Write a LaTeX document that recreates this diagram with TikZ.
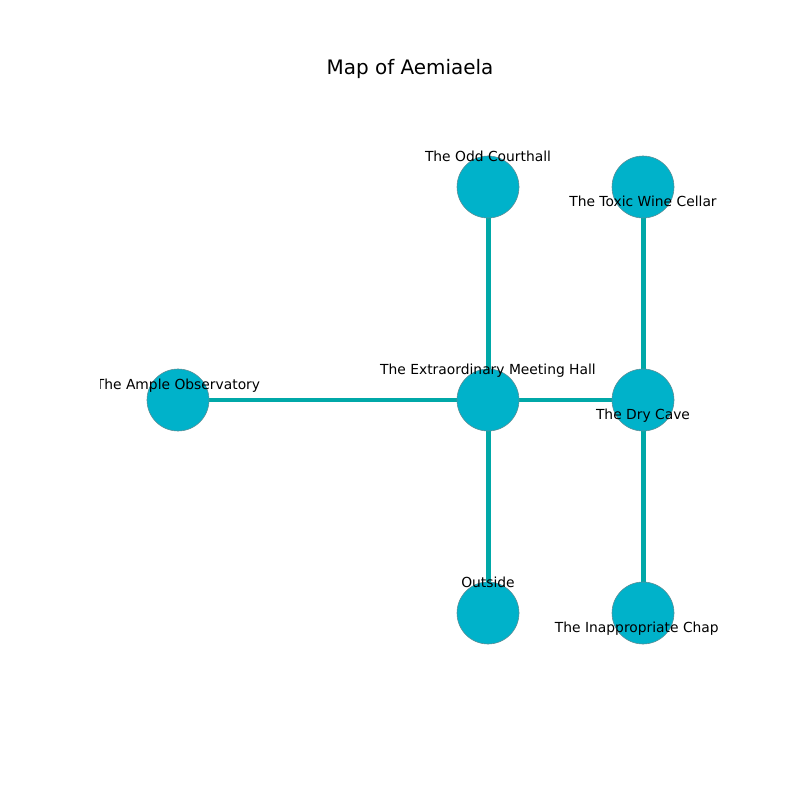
\documentclass[tikz,border=0pt]{standalone}
\usepackage{fontspec}
\setmainfont{DejaVu Sans}
\usetikzlibrary{positioning, backgrounds}
\definecolor{roomfill}{HTML}{00B2CA}
\definecolor{roomedge}{HTML}{5E8C94}
\definecolor{pathcol}{HTML}{00A8A8}

\begin{document}
\begin{tikzpicture}[x=0.01in, y=-0.01in,
    room/.style={draw=roomedge, line width=0.4pt, fill=roomfill, circle, minimum size=0.62in, inner sep=0pt},
    passage/.style={draw=pathcol, line width=3.6pt},
    tag/.style={font=\fontsize{10}{12}\selectfont, inner sep=0pt, anchor=base}]
        \useasboundingbox (0,0) rectangle (800,800);

        % Draw the title
        \node (title) at (410,69) [font=\fontsize{14.4}{17}\selectfont] {Map of Aemiaela};

        % Draw the rooms
        \node (ample)   at (178,400) [room] {};
        \node (hall)    at (488,400) [room] {};
        \node (cave)    at (643,400) [room] {};
        \node (court)   at (488,187) [room] {};
        \node (cellar)  at (643,187) [room] {};
        \node (outside) at (488,613) [room] {};
        \node (chapel)  at (643,613) [room] {};

        % Draw the passages
        \begin{scope}[on background layer]
        \draw [passage] (ample.center) -- (hall.center);
        \draw [passage] (hall.center) -- (cave.center);
        \draw [passage] (hall.center) -- (court.center);
        \draw [passage] (hall.center) -- (outside.center);
        \draw [passage] (cave.center) -- (cellar.center);
        \draw [passage] (cave.center) -- (chapel.center);
        \end{scope}

        % Add the room names
        \begin{scope}
        \clip (100,96) rectangle (718,712);
        \node (amplename)   at ([yshift=7.6pt]ample.center)    [tag] {The Ample Observatory};
        \node (hallname)    at ([yshift=18.7pt]hall.center)    [tag] {The Extraordinary Meeting Hall};
        \node (cavename)    at ([yshift=-14pt]cave.center)     [tag] {The Dry Cave};
        \node (courtname)   at ([yshift=18.7pt]court.center)   [tag] {The Odd Courthall};
        \node (cellarname)  at ([yshift=-14pt]cellar.center)   [tag] {The Toxic Wine Cellar};
        \node (outsidename) at ([yshift=18.7pt]outside.center) [tag] {Outside};
        \node (chapelname)  at ([yshift=-14pt]chapel.center)   [tag] {The Inappropriate Chapel};
        \end{scope}
    \end{tikzpicture}
\end{document}
